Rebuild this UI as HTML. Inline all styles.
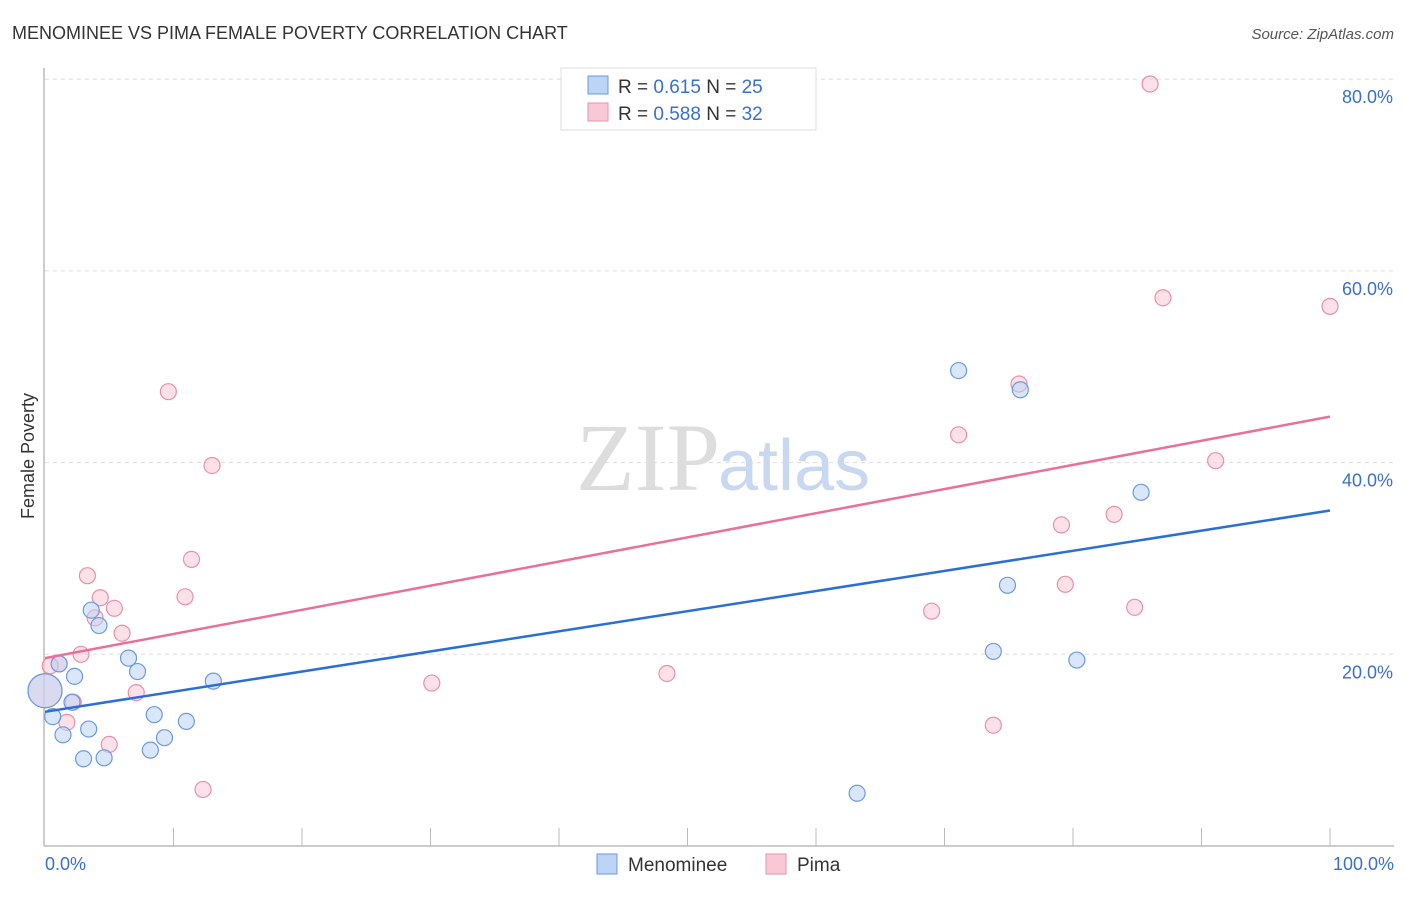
<!DOCTYPE html>
<html><head><meta charset="utf-8"><style>
body{margin:0;background:#fff;font-family:"Liberation Sans",sans-serif;}
</style></head><body>
<svg width="1406" height="892" viewBox="0 0 1406 892" xmlns="http://www.w3.org/2000/svg">
<text x="12" y="39" font-size="18" fill="#333">MENOMINEE VS PIMA FEMALE POVERTY CORRELATION CHART</text>
<text x="1394" y="39" font-size="15" fill="#555" font-style="italic" text-anchor="end">Source: ZipAtlas.com</text>
<g id="grid"></g>
<text x="720" y="490" font-size="96" fill="#ddd" font-family="Liberation Serif" text-anchor="end">ZIP</text>
<text x="718" y="490" font-size="72" fill="#c8d8f0">atlas</text>
<line x1="44" y1="68" x2="44" y2="846" stroke="#bbb" stroke-width="1.5"/>
<line x1="44" y1="846" x2="1394" y2="846" stroke="#bbb" stroke-width="1.5"/>
<g id="ticks"></g>
<text x="45" y="870" font-size="18" fill="#3a6fd0">0.0%</text>
<text x="1394" y="870" font-size="18" fill="#3a6fd0" text-anchor="end">100.0%</text>
<text x="34" y="456" font-size="18" fill="#333" text-anchor="middle" transform="rotate(-90 34 456)">Female Poverty</text>
<g id="pts"></g>
<g id="lines"></g>
<g>
<rect x="561" y="68" width="255" height="62" fill="#fff" stroke="#ddd"/>
<rect x="588" y="76" width="20" height="18" fill="#bcd4f6" stroke="#6a9ae0"/>
<rect x="588" y="103" width="20" height="18" fill="#f9c8d6" stroke="#e890aa"/>
<text x="618" y="93" font-size="19" fill="#333">R = <tspan fill="#3a6fd0">0.615</tspan>   N = <tspan fill="#3a6fd0">25</tspan></text>
<text x="618" y="120" font-size="19" fill="#333">R = <tspan fill="#3a6fd0">0.588</tspan>   N = <tspan fill="#3a6fd0">32</tspan></text>
</g>
<g>
<rect x="597" y="854" width="20" height="20" fill="#bcd4f6" stroke="#6a9ae0"/>
<text x="628" y="871" font-size="19" fill="#333">Menominee</text>
<rect x="766" y="854" width="20" height="20" fill="#f9c8d6" stroke="#e890aa"/>
<text x="797" y="871" font-size="19" fill="#333">Pima</text>
</g>
</svg>
<script>
const yTicks=[20,40,60,80];
const yTickLabels=["20.0%","40.0%","60.0%","80.0%"];
const menX=[3.6,4.2,6.5,7.2,2.3,1.1,2.1,0.6,1.4,3.4,3.0,4.6,8.5,9.3,8.2,11.0,13.1,0,71.1,75.9,85.3,74.9,73.8,80.3,63.2];
const menY=[24.6,23.0,19.6,18.2,17.7,19.0,15.0,13.5,11.6,12.2,9.1,9.2,13.7,11.3,10.0,13.0,17.2,16.2,49.6,47.6,36.9,27.2,20.3,19.4,5.5];
const pimaX=[86,87,100,75.8,71.1,91.1,83.2,79.1,79.4,84.8,69,73.8,48.4,30.1,9.6,13,11.4,10.9,3.3,4.3,5.4,3.9,6,2.8,1.1,0.4,2.2,7.1,1.7,5,12.3,0];
const pimaY=[79.5,57.2,56.3,48.2,42.9,40.2,34.6,33.5,27.3,24.9,24.5,12.6,18.0,17.0,47.4,39.7,29.9,26.0,28.2,25.9,24.8,23.8,22.2,20.0,19.0,18.8,15.0,16.0,12.9,10.6,5.9,16.2];
const menLine=[14.0,35.0];
const pimaLine=[19.6,44.8];
const NS="http://www.w3.org/2000/svg";
const xs=v=>45+v*12.85, ys=v=>846-v*9.585;
function mk(t,a){const e=document.createElementNS(NS,t);for(const k in a)e.setAttribute(k,a[k]);return e;}
const grid=document.getElementById('grid');
yTicks.forEach((t,i)=>{
 const l=mk('line',{x1:45,x2:1394,y1:ys(t),y2:ys(t),stroke:'#ddd','stroke-dasharray':'4,4'});
 
 
 grid.appendChild(l);
 const tx=mk('text',{x:1393,y:ys(t)+24,'font-size':18,fill:'#3a6fd0','text-anchor':'end'});
 tx.textContent=yTickLabels[i];
 
 
 grid.appendChild(tx);
});
const ticks=document.getElementById('ticks');
for(let i=1;i<=10;i++){const l=mk('line',{x1:45+i*128.5,x2:45+i*128.5,y1:828,y2:846,stroke:'#bbb'});
 
 
 ticks.appendChild(l);}
const pts=document.getElementById('pts');
function draw(X,Y,fill,stroke,name){X.forEach((x,i)=>{const big=x===0;
 const c=mk('circle',{cx:xs(x)+(big?0:0),cy:ys(Y[i]),r:big?17:8,fill:fill,'fill-opacity':0.55,stroke:stroke,'stroke-width':1.2});
 
 
 pts.appendChild(c);});}
draw(pimaX,pimaY,'#f9c8d6','#e890aa','pima-point');
draw(menX,menY,'#bcd4f6','#6a9ae0','menominee-point');
const lines=document.getElementById('lines');
const l1=mk('line',{x1:xs(0),y1:ys(pimaLine[0]),x2:xs(100),y2:ys(pimaLine[1]),stroke:'#e8709a','stroke-width':2.5});


lines.appendChild(l1);
const l2=mk('line',{x1:xs(0),y1:ys(menLine[0]),x2:xs(100),y2:ys(menLine[1]),stroke:'#2a6ed8','stroke-width':2.5});


lines.appendChild(l2);
</script>
</body></html>
